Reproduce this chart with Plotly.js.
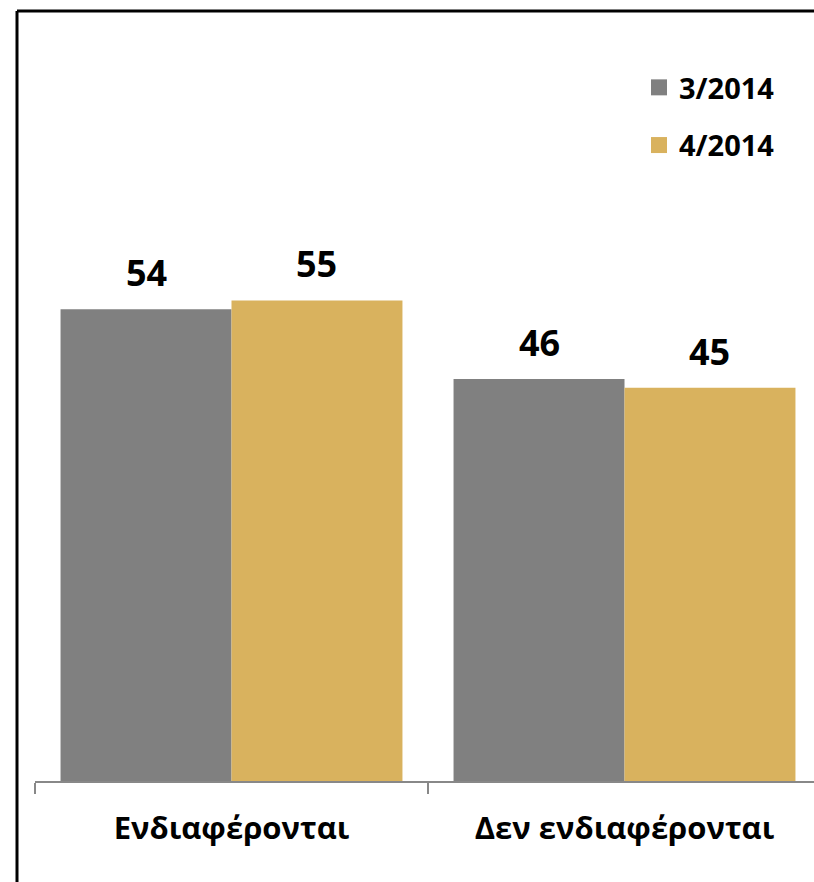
<!DOCTYPE html>
<html>
<head>
<meta charset="utf-8">
<script src="https://cdn.plot.ly/plotly-3.0.1.min.js"></script>
<style>html,body{margin:0;padding:0;background:#fff;}#chart{width:814px;height:882px;}</style>
</head>
<body>
<div id="chart"></div>
<script>
const categories = ["Ενδιαφέρονται", "Δεν ενδιαφέρονται"];
const seriesNames = ["3/2014", "4/2014"];
const values2014_03 = [54, 46];
const values2014_04 = [55, 45];
const colors = ["#808080", "#D9B25E"];

const FONT = "Open Sans, sans-serif";
const BARGAP = 0.13;
const allSeries = [values2014_03, values2014_04];

const bars = allSeries.map((vals, i) => ({
  type: "bar",
  x: categories,
  y: vals,
  name: seriesNames[i],
  marker: {color: colors[i]},
  showlegend: false,
  hoverinfo: "skip"
}));

const legendTraces = seriesNames.map((n, i) => ({
  type: "scatter",
  mode: "markers",
  x: [null], y: [null],
  name: n,
  legendgroup: "g" + i,
  marker: {symbol: "square", size: 16, color: colors[i]},
  showlegend: true,
  hoverinfo: "skip"
}));

// value labels above each bar (positions derived from the grouped-bar layout)
const nSeries = allSeries.length;
const slot = (1 - BARGAP) / nSeries;
const annotations = [];
allSeries.forEach((vals, j) => {
  vals.forEach((v, i) => {
    annotations.push({
      xref: "x", yref: "y",
      x: i - (1 - BARGAP) / 2 + slot * (j + 0.5),
      y: v,
      text: String(v),
      showarrow: false,
      yanchor: "bottom",
      yshift: 10,
      font: {family: FONT, size: 36, color: "#000", weight: "bold"}
    });
  });
});

const L = 35, T = 82, B = 101, W = 814, H = 882;
const plotW = W - L, plotH = H - T - B;
const px2paperX = p => (p - L) / plotW;
const px2paperY = p => (H - B - p) / plotH;

const layout = {
  width: W, height: H,
  margin: {l: L, r: 0, t: T, b: B, pad: 0},
  paper_bgcolor: "#fff",
  plot_bgcolor: "rgba(0,0,0,0)",
  barmode: "group",
  bargap: BARGAP,
  bargroupgap: 0,
  xaxis: {
    type: "category",
    range: [-0.5, -0.5 + plotW / 393],
    showline: true, linecolor: "#888888", linewidth: 2,
    ticks: "outside", tickson: "boundaries", ticklen: 11, tickwidth: 2, tickcolor: "#888888",
    showgrid: false, zeroline: false,
    tickfont: {family: FONT, size: 31, color: "#000", weight: "bold"},
    ticklabelstandoff: 19,
    fixedrange: true
  },
  yaxis: {
    range: [0, 80],
    visible: false,
    showgrid: false, zeroline: false,
    fixedrange: true
  },
  legend: {
    x: px2paperX(639), xanchor: "left",
    y: px2paperY(62), yanchor: "top",
    font: {family: FONT, size: 29, color: "#000", weight: "bold"},
    tracegroupgap: 17,
    bgcolor: "rgba(0,0,0,0)",
    itemclick: false, itemdoubleclick: false
  },
  annotations: annotations,
  shapes: [
    {type: "line", xref: "paper", yref: "paper",
     x0: px2paperX(17), x1: px2paperX(17), y0: px2paperY(11), y1: px2paperY(900),
     line: {color: "#000", width: 3}},
    {type: "line", xref: "paper", yref: "paper",
     x0: px2paperX(17), x1: px2paperX(830), y0: px2paperY(11), y1: px2paperY(11),
     line: {color: "#000", width: 3}}
  ],
  showlegend: true
};

Plotly.newPlot("chart", bars.concat(legendTraces), layout, {displayModeBar: false, staticPlot: true});
</script>
</body>
</html>
